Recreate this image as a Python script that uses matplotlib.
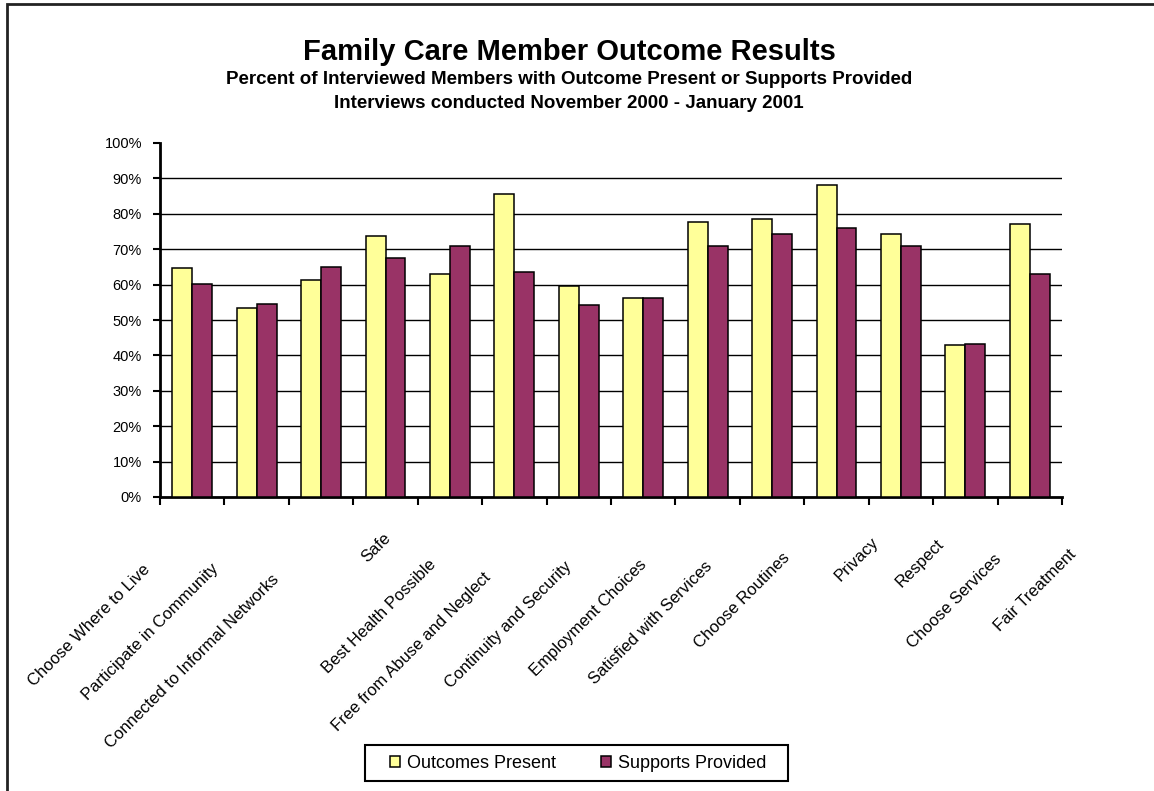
import numpy as np
import matplotlib
matplotlib.use('Agg')
import matplotlib.pyplot as plt
from matplotlib.patches import Rectangle, Patch

plt.rcParams['font.family'] = ['Liberation Sans', 'DejaVu Sans']

# data (percent)
categories = ['Choose Where to Live', 'Participate in Community', 'Connected to Informal Networks',
              'Safe', 'Best Health Possible', 'Free from Abuse and Neglect',
              'Continuity and Security', 'Employment Choices', 'Satisfied with Services',
              'Choose Routines', 'Privacy', 'Respect', 'Choose Services', 'Fair Treatment']
outcomes_present = [64.8, 53.5, 61.4, 73.8, 63.1, 85.7, 59.7, 56.3, 77.8, 78.4, 88.0, 74.4, 42.8, 77.2]
supports_provided = [60.3, 54.6, 65.0, 67.6, 71.0, 63.7, 54.1, 56.3, 71.0, 74.4, 76.1, 71.0, 43.3, 63.1]
ytick_vals = [0, 10, 20, 30, 40, 50, 60, 70, 80, 90, 100]

# where Excel put each rotated label (pixel offset of the text centre from the category centre)
label_dx = [-103, -106, -129, -9, -71, -103, -70, -55, -57, -30, 20, 19, -11, 5]
label_dy = [128, 135, 164, 51, 119, 155, 128, 121, 126, 104, 62, 66, 104, 93]

yellow = '#FFFF99'
maroon = '#993366'

fig = plt.figure(figsize=(11.54, 7.91), dpi=100)
ax = fig.add_axes([160 / 1154, 1 - 497 / 791, (1062 - 160) / 1154, (497 - 143) / 791])

x = np.arange(len(categories))
w = 0.31
ax.bar(x - w / 2, outcomes_present, w, color=yellow, edgecolor='black', linewidth=1.1, zorder=3)
ax.bar(x + w / 2, supports_provided, w, color=maroon, edgecolor='black', linewidth=1.1, zorder=3)

ax.set_xlim(-0.5, len(categories) - 0.5)
ax.set_ylim(0, 100)
ax.set_yticks(ytick_vals)
ax.set_yticklabels([f'{v}%' for v in ytick_vals], fontsize=10.5)
ax.set_xticks(np.arange(len(categories) + 1) - 0.5)
ax.set_xticklabels([])
ax.tick_params(axis='y', direction='out', length=5, width=1.5, pad=8)
ax.tick_params(axis='x', direction='out', length=6, width=1.5)

ax.yaxis.grid(True, color='black', linewidth=1)
ax.set_axisbelow(True)
ax.get_ygridlines()[-1].set_visible(False)
ax.get_ygridlines()[0].set_visible(False)

for s in ['top', 'right']:
    ax.spines[s].set_visible(False)
for s in ['left', 'bottom']:
    ax.spines[s].set_linewidth(2)

for i, lab in enumerate(categories):
    ax.annotate(lab, xy=(i, 0), xycoords=('data', 'axes fraction'),
                xytext=(label_dx[i] * 0.72, -label_dy[i] * 0.72), textcoords='offset points',
                rotation=45, rotation_mode='anchor', ha='center', va='center', fontsize=12)

# titles
fig.text(569 / 1154, 1 - 52 / 791, 'Family Care Member Outcome Results',
         ha='center', va='center', fontsize=21, fontweight='bold')
fig.text(569 / 1154, 1 - 79 / 791, 'Percent of Interviewed Members with Outcome Present or Supports Provided',
         ha='center', va='center', fontsize=13.5, fontweight='bold')
fig.text(569 / 1154, 1 - 104 / 791, 'Interviews conducted November 2000 - January 2001',
         ha='center', va='center', fontsize=13.5, fontweight='bold')

# legend: entries without frame, Excel-style box drawn around them
handles = [Patch(facecolor=yellow, edgecolor='black', linewidth=1.1),
           Patch(facecolor=maroon, edgecolor='black', linewidth=1.1)]
fig.legend(handles, ['Outcomes Present', 'Supports Provided'], loc='center',
           bbox_to_anchor=(578 / 1154, 1 - 763 / 791), ncol=2, fontsize=13, frameon=False,
           handlelength=0.55, handleheight=0.55, handletextpad=0.4, columnspacing=2.5,
           borderpad=0, borderaxespad=0)
fig.patches.append(Rectangle((365 / 1154, 1 - 781 / 791), 423 / 1154, 36 / 791,
                             transform=fig.transFigure, fill=False, edgecolor='black', linewidth=1.5))

# chart-area border (only top and left edges fall inside the picture)
fig.patches.append(Rectangle((7 / 1154, -0.1), 1.2, 1.1 - 4 / 791, transform=fig.transFigure,
                             fill=False, edgecolor='#222222', linewidth=2))

fig.savefig('out.png', dpi=100)
